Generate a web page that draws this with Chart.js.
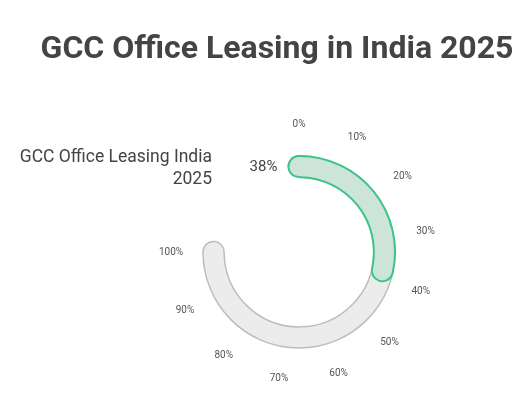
<!DOCTYPE html>
<html>
<head>
<meta charset="utf-8">
<script src="https://cdn.jsdelivr.net/npm/chart.js@4/dist/chart.umd.min.js"></script>
<style>
  html, body { margin: 0; padding: 0; background: #fff; }
  .wrap { position: relative; width: 521px; height: 409px; font-family: Roboto, sans-serif; color: #444; }
  .title { position: absolute; top: 30px; left: 0; width: 554px; text-align: center; font-size: 32px; font-weight: bold; line-height: 34px; white-space: nowrap; }
  .series { position: absolute; top: 145px; left: 0; width: 212px; text-align: right; font-size: 17.5px; line-height: 22px; }
  canvas { position: absolute; left: 0; top: 0; }
</style>
</head>
<body>
<div class="wrap">
  <canvas id="gauge" width="521" height="409"></canvas>
  <div class="title">GCC Office Leasing in India 2025</div>
  <div class="series">GCC Office Leasing India<br>2025</div>
</div>
<script>
// Data
const seriesName = 'GCC Office Leasing India 2025';
const values = [38];
const maxValue = 100;
const tickValues = [0, 10, 20, 30, 40, 50, 60, 70, 80, 90, 100];

const ROTATION = 0;
const SWEEP = 270;

// Put both rings on the same track and give them round caps past their ends
const gaugeRing = {
    id: 'gaugeRing',
    afterDatasetsUpdate(chart) {
        const valueMeta = chart.getDatasetMeta(0);
        const trackMeta = chart.getDatasetMeta(1);
        const outer = valueMeta.data[0].outerRadius;
        const inner = trackMeta.data[0].innerRadius;
        const cap = ((outer - inner) / 2) / ((outer + inner) / 2);
        [valueMeta.data[0], trackMeta.data[0]].forEach(arc => {
            arc.outerRadius = outer;
            arc.innerRadius = inner;
            arc.startAngle -= cap;
            arc.endAngle += cap;
        });
        valueMeta.data[1].outerRadius = outer;
        valueMeta.data[1].innerRadius = inner;
    },
    afterDraw(chart) {
        const ctx = chart.ctx;
        const arc = chart.getDatasetMeta(1).data[0];
        const cx = arc.x, cy = arc.y;
        const outer = arc.outerRadius, inner = arc.innerRadius;
        const start = (ROTATION - 90) * Math.PI / 180;

        // percent labels around the gauge
        ctx.save();
        ctx.font = '10px Roboto, sans-serif';
        ctx.fillStyle = '#555';
        ctx.textAlign = 'center';
        ctx.textBaseline = 'middle';
        tickValues.forEach(t => {
            const a = start + (t / maxValue) * SWEEP * Math.PI / 180;
            const r = outer + 32;
            ctx.fillText(t + '%', cx + r * Math.cos(a), cy + r * Math.sin(a));
        });

        // value label next to the start cap
        const mid = (outer + inner) / 2;
        ctx.font = '15px Roboto, sans-serif';
        ctx.fillStyle = '#444';
        ctx.textAlign = 'right';
        ctx.fillText(values[0] + '%', cx + mid * Math.cos(start) - (outer - inner) / 2 - 11, cy + mid * Math.sin(start) + 1);
        ctx.restore();
    }
};

new Chart(document.getElementById('gauge'), {
    type: 'doughnut',
    data: {
        datasets: [
            {
                label: seriesName,
                data: [values[0], maxValue - values[0]],
                backgroundColor: ['#cde5d8', 'rgba(0,0,0,0)'],
                borderColor: ['#3cc48a', 'rgba(0,0,0,0)'],
                borderWidth: [2, 0],
                borderRadius: 30
            },
            {
                label: 'track',
                data: [maxValue],
                backgroundColor: '#ececec',
                borderColor: '#bdbdbd',
                borderWidth: 1.5,
                borderRadius: 30
            }
        ]
    },
    options: {
        responsive: false,
        animation: false,
        rotation: ROTATION,
        circumference: SWEEP,
        cutout: '78%',
        layout: {
            padding: { left: 202, right: 125, top: 155, bottom: 60 }
        },
        plugins: {
            legend: { display: false },
            tooltip: { enabled: false }
        }
    },
    plugins: [gaugeRing]
});
</script>
</body>
</html>
